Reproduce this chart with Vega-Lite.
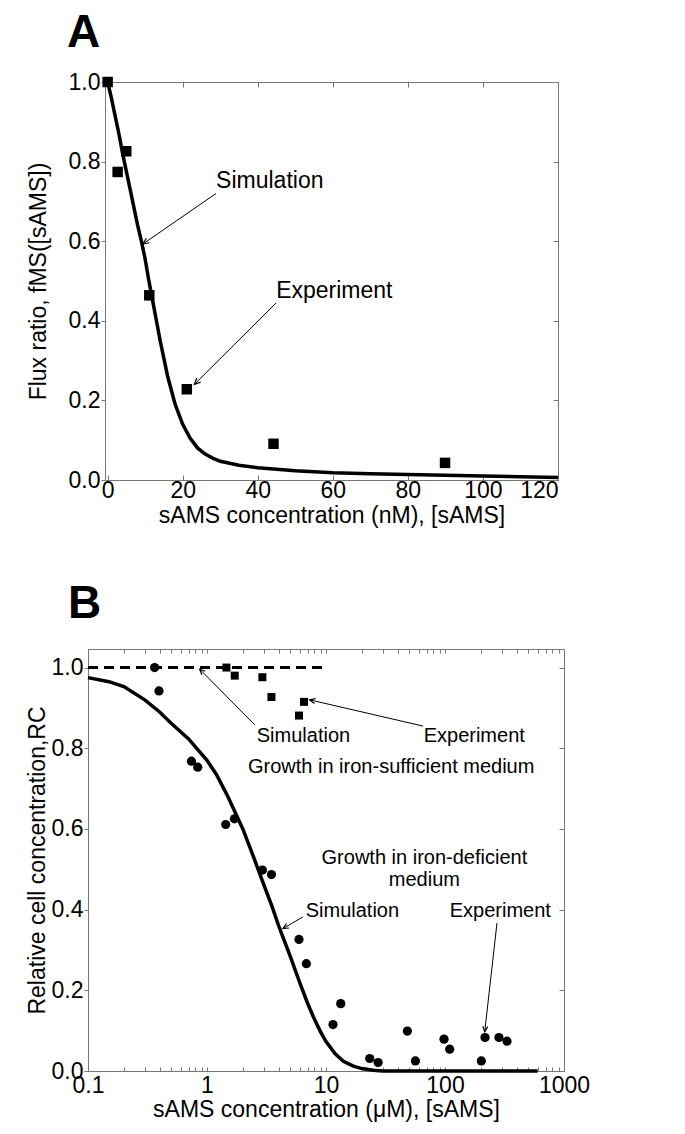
{
  "$schema": "https://vega.github.io/schema/vega-lite/v6.json",
  "padding": {"left": 26, "top": 10, "right": 5, "bottom": 5},
  "background": "white",
  "spacing": 53,
  "config": {
    "font": "Liberation Sans",
    "view": {"stroke": null},
    "axis": {
      "grid": false,
      "domainColor": "#777777",
      "tickColor": "#777777",
      "labelColor": "black",
      "titleColor": "black",
      "labelFont": "Liberation Sans",
      "titleFont": "Liberation Sans",
      "labelFontSize": 23,
      "titleFontSize": 23,
      "titleFontWeight": "normal",
      "domainWidth": 1,
      "tickWidth": 1
    }
  },
  "datasets": {
    "a_exp": [
      {"conc": 0, "ratio": 1.0},
      {"conc": 2.67, "ratio": 0.774},
      {"conc": 4.97, "ratio": 0.826},
      {"conc": 11.1, "ratio": 0.464},
      {"conc": 21.1, "ratio": 0.228},
      {"conc": 44.2, "ratio": 0.091},
      {"conc": 89.9, "ratio": 0.043}
    ],
    "a_sim": [
      {"conc": 0, "ratio": 1.0},
      {"conc": 1, "ratio": 0.96},
      {"conc": 2, "ratio": 0.915},
      {"conc": 3, "ratio": 0.87},
      {"conc": 4, "ratio": 0.82},
      {"conc": 5, "ratio": 0.775},
      {"conc": 6, "ratio": 0.73},
      {"conc": 7, "ratio": 0.685},
      {"conc": 8, "ratio": 0.64},
      {"conc": 9, "ratio": 0.6},
      {"conc": 10, "ratio": 0.555},
      {"conc": 11, "ratio": 0.5},
      {"conc": 12, "ratio": 0.45},
      {"conc": 13, "ratio": 0.4},
      {"conc": 14, "ratio": 0.35},
      {"conc": 15, "ratio": 0.305},
      {"conc": 16, "ratio": 0.26},
      {"conc": 17, "ratio": 0.225},
      {"conc": 18, "ratio": 0.19},
      {"conc": 19, "ratio": 0.165},
      {"conc": 20, "ratio": 0.14},
      {"conc": 22, "ratio": 0.105},
      {"conc": 24, "ratio": 0.08},
      {"conc": 26, "ratio": 0.065},
      {"conc": 28, "ratio": 0.055},
      {"conc": 30, "ratio": 0.047},
      {"conc": 35, "ratio": 0.037},
      {"conc": 40, "ratio": 0.031},
      {"conc": 50, "ratio": 0.023},
      {"conc": 60, "ratio": 0.018},
      {"conc": 70, "ratio": 0.016},
      {"conc": 80, "ratio": 0.014},
      {"conc": 90, "ratio": 0.012},
      {"conc": 100, "ratio": 0.01},
      {"conc": 110, "ratio": 0.008},
      {"conc": 120, "ratio": 0.006}
    ],
    "a_text": [
      {"conc": 28.9, "ratio": 0.734, "label": "Simulation"},
      {"conc": 44.9, "ratio": 0.457, "label": "Experiment"}
    ],
    "a_arrows": [
      {"name": "sim", "conc": 28.9, "ratio": 0.72, "conc2": 9.4, "ratio2": 0.593},
      {"name": "exp", "conc": 44.9, "ratio": 0.445, "conc2": 23.1, "ratio2": 0.24}
    ],
    "b_def": [
      {"conc": 0.363, "rc": 1.0},
      {"conc": 0.395, "rc": 0.942},
      {"conc": 0.74, "rc": 0.768},
      {"conc": 0.836, "rc": 0.753},
      {"conc": 1.436, "rc": 0.611},
      {"conc": 1.7, "rc": 0.625},
      {"conc": 2.92, "rc": 0.498},
      {"conc": 3.48, "rc": 0.487},
      {"conc": 5.93, "rc": 0.326},
      {"conc": 6.84, "rc": 0.266},
      {"conc": 11.45, "rc": 0.115},
      {"conc": 13.3, "rc": 0.167},
      {"conc": 23.3, "rc": 0.031},
      {"conc": 27.4, "rc": 0.021},
      {"conc": 48.3, "rc": 0.099},
      {"conc": 56.4, "rc": 0.025},
      {"conc": 98.1, "rc": 0.079},
      {"conc": 109.5, "rc": 0.054},
      {"conc": 202, "rc": 0.025},
      {"conc": 217, "rc": 0.083},
      {"conc": 284, "rc": 0.083},
      {"conc": 332, "rc": 0.074}
    ],
    "b_suf": [
      {"conc": 1.456, "rc": 1.0},
      {"conc": 1.71, "rc": 0.98},
      {"conc": 2.92, "rc": 0.976},
      {"conc": 3.48, "rc": 0.927},
      {"conc": 5.93, "rc": 0.881},
      {"conc": 6.53, "rc": 0.915}
    ],
    "b_dash": [
      {"conc": 0.1, "rc": 1.0},
      {"conc": 10, "rc": 1.0}
    ],
    "b_sim": [
      {"conc": 0.1, "rc": 0.975},
      {"conc": 0.15, "rc": 0.965},
      {"conc": 0.2, "rc": 0.953},
      {"conc": 0.3, "rc": 0.92},
      {"conc": 0.4, "rc": 0.89},
      {"conc": 0.5, "rc": 0.862},
      {"conc": 0.7, "rc": 0.823},
      {"conc": 1.0, "rc": 0.77},
      {"conc": 1.2, "rc": 0.735},
      {"conc": 1.5, "rc": 0.68},
      {"conc": 2.0, "rc": 0.6},
      {"conc": 2.5, "rc": 0.525},
      {"conc": 3.0, "rc": 0.462},
      {"conc": 3.5, "rc": 0.41},
      {"conc": 4.0, "rc": 0.36},
      {"conc": 5.0, "rc": 0.285},
      {"conc": 6.0, "rc": 0.22},
      {"conc": 7.0, "rc": 0.168},
      {"conc": 8.0, "rc": 0.128},
      {"conc": 9.0, "rc": 0.097},
      {"conc": 10, "rc": 0.073},
      {"conc": 12, "rc": 0.042},
      {"conc": 14, "rc": 0.024},
      {"conc": 17, "rc": 0.012},
      {"conc": 20, "rc": 0.006},
      {"conc": 25, "rc": 0.002},
      {"conc": 30, "rc": 0.0},
      {"conc": 600, "rc": 0.0}
    ],
    "b_text_left": [
      {"conc": 2.62, "rc": 0.816, "label": "Simulation"},
      {"conc": 66.2, "rc": 0.816, "label": "Experiment"},
      {"conc": 6.75, "rc": 0.382, "label": "Simulation"},
      {"conc": 109.5, "rc": 0.382, "label": "Experiment"}
    ],
    "b_text_center": [
      {"conc": 35.3, "rc": 0.738, "label": "Growth in iron-sufficient medium"},
      {"conc": 67.1, "rc": 0.514, "label": "Growth in iron-deficient"},
      {"conc": 67.1, "rc": 0.459, "label": "medium"}
    ],
    "b_arrows": [
      {"name": "sim_suf", "conc": 2.52, "rc": 0.858, "conc2": 0.868, "rc2": 0.996},
      {"name": "exp_suf", "conc": 65.3, "rc": 0.855, "conc2": 7.29, "rc2": 0.92},
      {"name": "sim_def", "conc": 6.41, "rc": 0.382, "conc2": 4.35, "rc2": 0.353},
      {"name": "exp_def", "conc": 273.5, "rc": 0.367, "conc2": 215.6, "rc2": 0.097}
    ]
  },
  "vconcat": [
    {
      "width": 453,
      "height": 398,
      "title": {"text": "A", "anchor": "start", "frame": "group", "dx": -38, "fontSize": 46, "fontWeight": "bold", "font": "Liberation Sans", "baseline": "alphabetic", "offset": -22, "color": "black"},
      "resolve": {"axis": {"x": "independent", "y": "independent"}},
      "layer": [
        {
          "data": {"name": "a_sim"},
          "mark": {"type": "line", "color": "black", "strokeWidth": 3.5},
          "encoding": {
            "x": {"field": "conc", "type": "quantitative", "scale": {"domain": [-0.7, 120], "nice": false, "zero": false},
              "axis": {"orient": "bottom", "values": [0, 20, 40, 60, 80, 100, 120], "title": "sAMS concentration (nM), [sAMS]", "tickSize": -5, "labelPadding": 4, "titlePadding": 2}},
            "y": {"field": "ratio", "type": "quantitative", "scale": {"domain": [0, 1], "nice": false},
              "axis": {"orient": "left", "values": [0, 0.2, 0.4, 0.6, 0.8, 1.0], "format": ".1f", "title": "Flux ratio, fMS([sAMS])", "tickSize": 4, "labelPadding": 1, "titlePadding": 18}}
          }
        },
        {
          "data": {"name": "a_exp"},
          "mark": {"type": "point", "shape": "square", "filled": true, "color": "black", "size": 110, "opacity": 1},
          "encoding": {
            "x": {"field": "conc", "type": "quantitative", "axis": {"orient": "top", "labels": false, "title": null, "values": [0, 20, 40, 60, 80, 100, 120], "tickSize": -5}},
            "y": {"field": "ratio", "type": "quantitative", "axis": {"orient": "right", "labels": false, "title": null, "values": [0, 0.2, 0.4, 0.6, 0.8, 1.0], "tickSize": -5}}
          }
        },
        {
          "data": {"name": "a_arrows"},
          "mark": {"type": "rule", "color": "black", "strokeWidth": 1},
          "encoding": {
            "x": {"field": "conc", "type": "quantitative", "axis": null},
            "y": {"field": "ratio", "type": "quantitative", "axis": null},
            "x2": {"field": "conc2"},
            "y2": {"field": "ratio2"}
          }
        },
        {
          "data": {"name": "a_arrows"},
          "transform": [{"filter": "datum.name == 'sim'"}],
          "mark": {"type": "point", "shape": "M-1,-0.45L0,0L-1,0.45", "filled": false, "color": "black", "strokeWidth": 1.2, "size": 150, "angle": 145, "opacity": 1},
          "encoding": {
            "x": {"field": "conc2", "type": "quantitative", "axis": null},
            "y": {"field": "ratio2", "type": "quantitative", "axis": null}
          }
        },
        {
          "data": {"name": "a_arrows"},
          "transform": [{"filter": "datum.name == 'exp'"}],
          "mark": {"type": "point", "shape": "M-1,-0.45L0,0L-1,0.45", "filled": false, "color": "black", "strokeWidth": 1.2, "size": 150, "angle": 135, "opacity": 1},
          "encoding": {
            "x": {"field": "conc2", "type": "quantitative", "axis": null},
            "y": {"field": "ratio2", "type": "quantitative", "axis": null}
          }
        },
        {
          "data": {"name": "a_text"},
          "mark": {"type": "text", "align": "left", "baseline": "alphabetic", "fontSize": 23, "color": "black", "font": "Liberation Sans"},
          "encoding": {
            "x": {"field": "conc", "type": "quantitative", "axis": null},
            "y": {"field": "ratio", "type": "quantitative", "axis": null},
            "text": {"field": "label"}
          }
        }
      ]
    },
    {
      "width": 459,
      "height": 422,
      "title": {"text": "B", "anchor": "start", "frame": "group", "dx": -37, "fontSize": 46, "fontWeight": "bold", "font": "Liberation Sans", "baseline": "alphabetic", "offset": -15, "color": "black"},
      "resolve": {"axis": {"x": "independent", "y": "independent"}},
      "layer": [
        {
          "data": {"name": "b_sim"},
          "mark": {"type": "line", "color": "black", "strokeWidth": 3.5},
          "encoding": {
            "x": {"field": "conc", "type": "quantitative", "scale": {"type": "log", "domain": [0.1, 1000], "nice": false, "rangeMin": -17},
              "axis": {"orient": "bottom", "values": [0.1, 0.2, 0.3, 0.4, 0.5, 0.6, 0.7, 0.8, 0.9, 1, 2, 3, 4, 5, 6, 7, 8, 9, 10, 20, 30, 40, 50, 60, 70, 80, 90, 100, 200, 300, 400, 500, 600, 700, 800, 900, 1000],
                "format": "~g", "labelExpr": "indexof([0.1, 1, 10, 100, 1000], datum.value) >= 0 ? datum.label : ''", "labelOverlap": false, "labelFlush": false,
                "title": "sAMS concentration (μM), [sAMS]", "tickSize": -4, "labelPadding": 7, "titlePadding": 1}},
            "y": {"field": "rc", "type": "quantitative", "scale": {"domain": [0, 1.046], "nice": false},
              "axis": {"orient": "left", "offset": 17, "values": [0, 0.2, 0.4, 0.6, 0.8, 1.0], "format": ".1f", "title": "Relative cell concentration,RC", "tickSize": 4, "labelPadding": 1, "titlePadding": 2}}
          }
        },
        {
          "data": {"name": "b_dash"},
          "mark": {"type": "line", "color": "black", "strokeWidth": 3, "strokeDash": [10, 6]},
          "encoding": {
            "x": {"field": "conc", "type": "quantitative", "axis": null},
            "y": {"field": "rc", "type": "quantitative", "axis": null}
          }
        },
        {
          "data": {"name": "b_def"},
          "mark": {"type": "point", "shape": "circle", "filled": true, "color": "black", "size": 85, "opacity": 1},
          "encoding": {
            "x": {"field": "conc", "type": "quantitative",
              "axis": {"orient": "top", "labels": false, "title": null, "values": [0.1, 0.2, 0.3, 0.4, 0.5, 0.6, 0.7, 0.8, 0.9, 1, 2, 3, 4, 5, 6, 7, 8, 9, 10, 20, 30, 40, 50, 60, 70, 80, 90, 100, 200, 300, 400, 500, 600, 700, 800, 900, 1000], "tickSize": -4}},
            "y": {"field": "rc", "type": "quantitative", "axis": {"orient": "right", "labels": false, "title": null, "values": [0, 0.2, 0.4, 0.6, 0.8, 1.0], "tickSize": -5}}
          }
        },
        {
          "data": {"name": "b_suf"},
          "mark": {"type": "point", "shape": "square", "filled": true, "color": "black", "size": 64, "opacity": 1},
          "encoding": {
            "x": {"field": "conc", "type": "quantitative", "axis": null},
            "y": {"field": "rc", "type": "quantitative", "axis": null}
          }
        },
        {
          "data": {"name": "b_arrows"},
          "mark": {"type": "rule", "color": "black", "strokeWidth": 1},
          "encoding": {
            "x": {"field": "conc", "type": "quantitative", "axis": null},
            "y": {"field": "rc", "type": "quantitative", "axis": null},
            "x2": {"field": "conc2"},
            "y2": {"field": "rc2"}
          }
        },
        {
          "data": {"name": "b_arrows"},
          "transform": [{"filter": "datum.name == 'sim_suf'"}],
          "mark": {"type": "point", "shape": "M-1,-0.45L0,0L-1,0.45", "filled": false, "color": "black", "strokeWidth": 1.2, "size": 120, "angle": 225, "opacity": 1},
          "encoding": {
            "x": {"field": "conc2", "type": "quantitative", "axis": null},
            "y": {"field": "rc2", "type": "quantitative", "axis": null}
          }
        },
        {
          "data": {"name": "b_arrows"},
          "transform": [{"filter": "datum.name == 'exp_suf'"}],
          "mark": {"type": "point", "shape": "M-1,-0.45L0,0L-1,0.45", "filled": false, "color": "black", "strokeWidth": 1.2, "size": 120, "angle": 193, "opacity": 1},
          "encoding": {
            "x": {"field": "conc2", "type": "quantitative", "axis": null},
            "y": {"field": "rc2", "type": "quantitative", "axis": null}
          }
        },
        {
          "data": {"name": "b_arrows"},
          "transform": [{"filter": "datum.name == 'sim_def'"}],
          "mark": {"type": "point", "shape": "M-1,-0.45L0,0L-1,0.45", "filled": false, "color": "black", "strokeWidth": 1.2, "size": 120, "angle": 150, "opacity": 1},
          "encoding": {
            "x": {"field": "conc2", "type": "quantitative", "axis": null},
            "y": {"field": "rc2", "type": "quantitative", "axis": null}
          }
        },
        {
          "data": {"name": "b_arrows"},
          "transform": [{"filter": "datum.name == 'exp_def'"}],
          "mark": {"type": "point", "shape": "M-1,-0.45L0,0L-1,0.45", "filled": false, "color": "black", "strokeWidth": 1.2, "size": 120, "angle": 96, "opacity": 1},
          "encoding": {
            "x": {"field": "conc2", "type": "quantitative", "axis": null},
            "y": {"field": "rc2", "type": "quantitative", "axis": null}
          }
        },
        {
          "data": {"name": "b_text_left"},
          "mark": {"type": "text", "align": "left", "baseline": "alphabetic", "fontSize": 20, "color": "black", "font": "Liberation Sans"},
          "encoding": {
            "x": {"field": "conc", "type": "quantitative", "axis": null},
            "y": {"field": "rc", "type": "quantitative", "axis": null},
            "text": {"field": "label"}
          }
        },
        {
          "data": {"name": "b_text_center"},
          "mark": {"type": "text", "align": "center", "baseline": "alphabetic", "fontSize": 20, "color": "black", "font": "Liberation Sans"},
          "encoding": {
            "x": {"field": "conc", "type": "quantitative", "axis": null},
            "y": {"field": "rc", "type": "quantitative", "axis": null},
            "text": {"field": "label"}
          }
        }
      ]
    }
  ]
}
